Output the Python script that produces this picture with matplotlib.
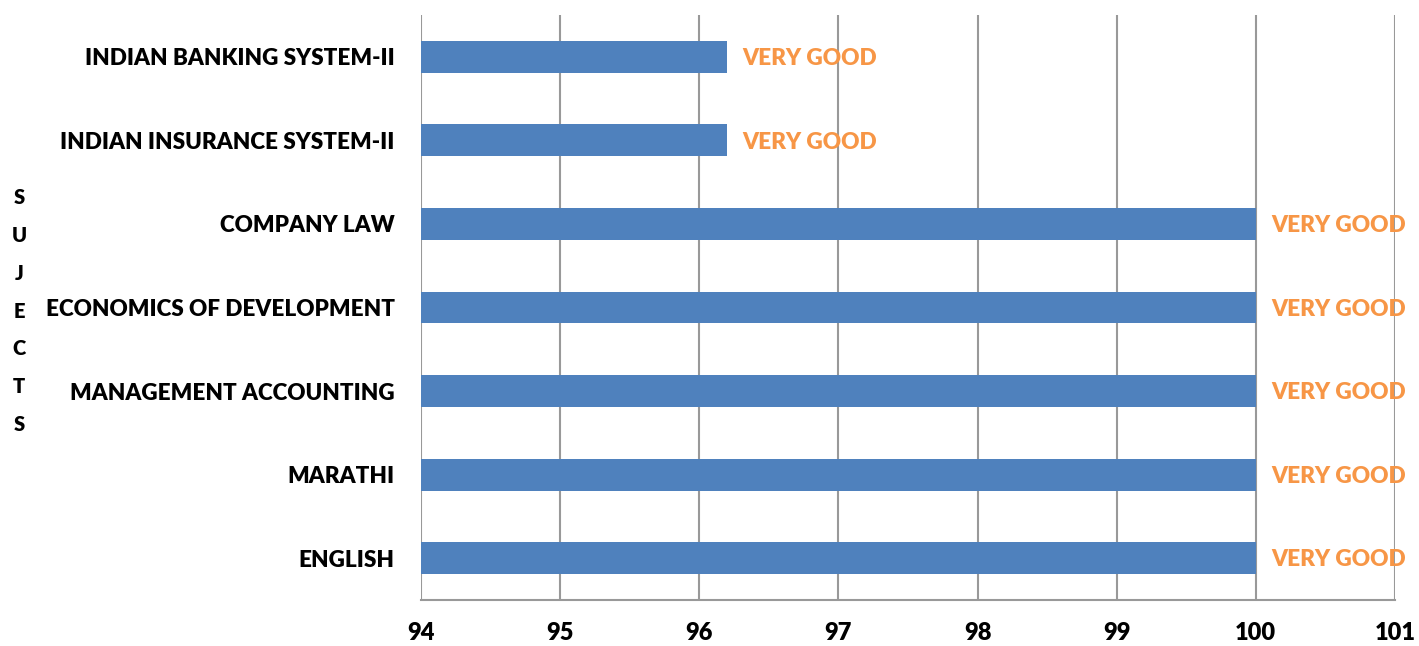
import matplotlib.pyplot as plt
import numpy as np

# data
subjects = ["INDIAN BANKING SYSTEM-II", "INDIAN INSURANCE SYSTEM-II", "COMPANY LAW",
            "ECONOMICS OF DEVELOPMENT", "MANAGEMENT ACCOUNTING", "MARATHI", "ENGLISH"]
scores = [96.2, 96.2, 100, 100, 100, 100, 100]
grades = ["VERY GOOD"] * 7
xticks = [94, 95, 96, 97, 98, 99, 100, 101]

plt.rcParams['font.family'] = ['Lato', 'DejaVu Sans']
plt.rcParams['font.weight'] = 'heavy'
W = 'heavy'

fig = plt.figure(figsize=(14.19, 6.46), dpi=100)
ax = fig.add_axes([0.2967, 0.0712, 0.6863, 0.9056])

y = np.arange(len(subjects))[::-1]
ax.barh(y, [s - 94 for s in scores], left=94, height=0.38, color="#4F81BD", zorder=3)
for yi, s, g in zip(y, scores, grades):
    ax.text(s + 0.11, yi - 0.02, g, color="#F79646", fontsize=16.3, fontweight=W,
            va="center", ha="left", zorder=4)

ax.set_xlim(94, 101)
ax.set_ylim(-0.5, len(subjects) - 0.5)
ax.set_xticks(xticks)
ax.set_xticklabels([str(t) for t in xticks], fontsize=17, fontweight=W)
ax.set_yticks(y)
ax.set_yticklabels(subjects, fontsize=16.2, fontweight=W)
ax.tick_params(axis="x", length=0, pad=16)
ax.tick_params(axis="y", length=0, pad=19)
ax.grid(axis="x", color="#999999", linewidth=1.5, zorder=0)
for sp in ["top", "right", "left"]:
    ax.spines[sp].set_visible(False)
ax.spines["bottom"].set_color("#999999")
ax.spines["bottom"].set_linewidth(1.5)

fig.text(19 / 1419, 1 - 311 / 646, "S\nU\nJ\nE\nC\nT\nS", fontsize=14.5, fontweight=W,
         ha="center", va="center", linespacing=2.18)

fig.savefig("out.png", dpi=100)
